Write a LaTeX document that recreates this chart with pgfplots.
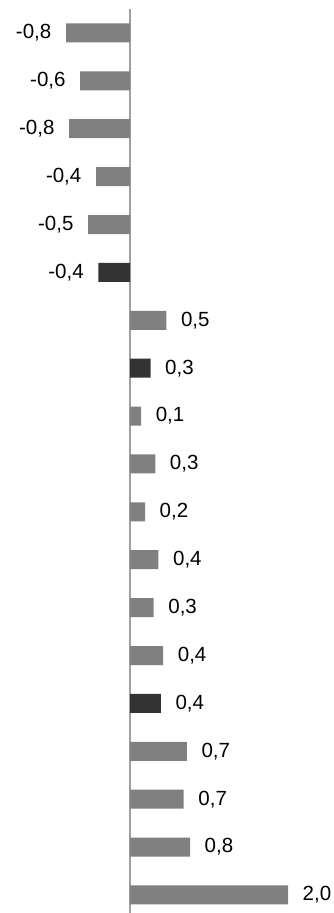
\documentclass[border=0pt]{standalone}
\usepackage{pgfplots}
\pgfplotsset{compat=1.18}
\usepackage{fontspec}
\setmainfont{Liberation Sans}
\definecolor{barg}{HTML}{808080}
\definecolor{bard}{HTML}{333333}
\definecolor{axg}{HTML}{A0A0A0}
\begin{document}
\begin{tikzpicture}[x=1pt,y=1pt]
\path[use as bounding box] (0,0) rectangle (333,913);
\begin{axis}[
    at={(0,0)}, anchor=south west,
    scale only axis, width=333pt, height=904pt,
    xmin=-1.6456, xmax=2.5696, ymin=-0.376, ymax=18.5,
    xbar, bar width=19pt, bar shift=0pt,
    axis x line=none, axis y line=center,
    axis line style={-, draw=axg, line width=1.2pt},
    ytick=\empty, xtick=\empty,
    point meta=x,
    nodes near coords,
    nodes near coords align={horizontal},
    every node near coord/.append style={font=\fontsize{20.5}{23}\selectfont, inner xsep=14.5pt, text=black,
        /pgf/number format/.cd, fixed, fixed zerofill, precision=1, use comma, assume math mode=true},
    clip=false
    ]
\addplot[fill=barg, draw=none] coordinates {
    (-0.81,18)
    (-0.63,17)
    (-0.77,16)
    (-0.43,15)
    (-0.53,14)
    (0.46,12)
    (0.14,10)
    (0.32,9)
    (0.19,8)
    (0.36,7)
    (0.30,6)
    (0.42,5)
    (0.72,3)
    (0.68,2)
    (0.76,1)
    (2.00,0)
};
\addplot[fill=bard, draw=none] coordinates {
    (-0.40,13)
    (0.26,11)
    (0.39,4)
};
\end{axis}
\end{tikzpicture}
\end{document}
